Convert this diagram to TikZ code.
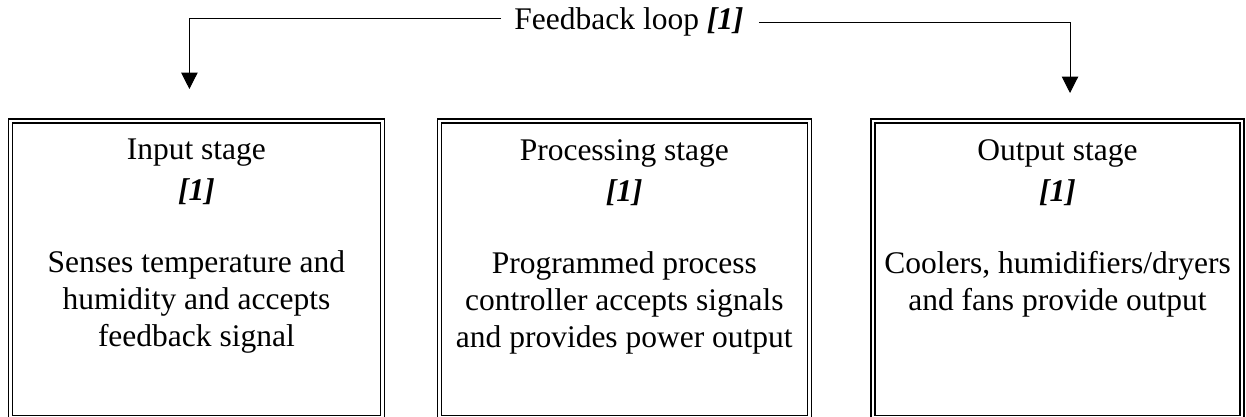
\documentclass[tikz,border=0pt]{standalone}
\usepackage{fontspec}
\setmainfont{Liberation Serif}
\usetikzlibrary{positioning,arrows.meta}

\begin{document}
\begin{tikzpicture}[x=1pt,y=-1pt,
  stage/.style={draw,line width=1.6pt,double,double distance=2.4pt,outer sep=0pt,inner sep=0pt,minimum height=296.5pt},
  stagetext/.style={align=center,inner sep=0pt,font=\fontsize{31.5}{37}\selectfont},
  feed/.style={line width=1pt,-{Triangle[length=16.5pt,width=16.5pt]}}]
\useasboundingbox (0,0) rectangle (1246,416);
\node[stage,minimum width=371.8pt] (in) at (196.4,269.25) {};
\node[stage,minimum width=370pt] (proc) at (624.3,269.25) {};
\node[stage,minimum width=368.5pt] (out) at (1057.5,269.25) {};
\node[stagetext,below=18pt of in.north] (intext) {Input stage\\[4pt] \textbf{\textit{[1]}}\\[35pt] Senses temperature and\\ humidity and accepts\\ feedback signal};
\node[stagetext,below=18pt of proc.north] (proctext) {Processing stage\\[4pt] \textbf{\textit{[1]}}\\[35pt] Programmed process\\ controller accepts signals\\ and provides power output};
\node[stagetext,below=18pt of out.north] (outtext) {Output stage\\[4pt] \textbf{\textit{[1]}}\\[35pt] Coolers, humidifiers/dryers\\ and fans provide output};
\node[stagetext,anchor=base] (fb) at (629,29.3) {Feedback loop \textbf{\textit{[1]}}};
\coordinate[above left=32pt and 7pt of in.north] (intip);
\coordinate[above right=28pt and 12.5pt of out.north] (outtip);
\draw[feed] ([xshift=-13pt,yshift=2.8pt]fb.west) -| (intip);
\draw[feed] ([xshift=15pt,yshift=-1.2pt]fb.east) -| (outtip);
\end{tikzpicture}
\end{document}
